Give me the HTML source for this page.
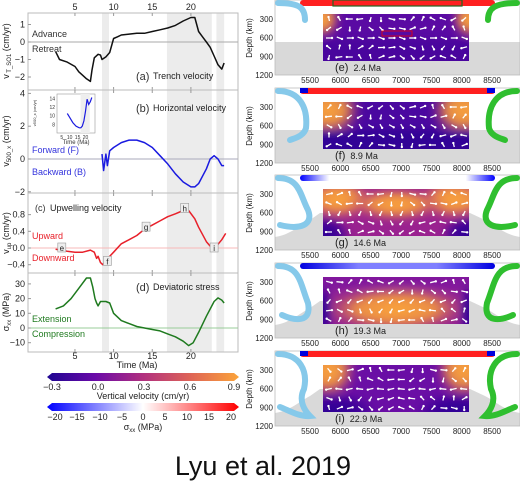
<!DOCTYPE html>
<html><head><meta charset="utf-8">
<style>
html,body{margin:0;padding:0;background:#fff;}
svg{display:block;font-family:"Liberation Sans",sans-serif;}
</style></head>
<body>
<svg id="fig" width="520" height="498" viewBox="0 0 520 498" xmlns="http://www.w3.org/2000/svg">
<defs>
<linearGradient id="plasma" x1="0" x2="1" y1="0" y2="0">
<stop offset="0" stop-color="#1e0691"/><stop offset="0.25" stop-color="#6a0aa8"/><stop offset="0.5" stop-color="#b1307f"/><stop offset="0.75" stop-color="#df6556"/><stop offset="1" stop-color="#fba43a"/>
</linearGradient>
<linearGradient id="bwr" x1="0" x2="1" y1="0" y2="0">
<stop offset="0" stop-color="#0000ff"/><stop offset="0.5" stop-color="#ffffff"/><stop offset="1" stop-color="#ff0000"/>
</linearGradient>
<radialGradient id="orng"><stop offset="0" stop-color="#fba43a"/><stop offset="0.5" stop-color="#f59a3e" stop-opacity="0.9"/><stop offset="1" stop-color="#b1307f" stop-opacity="0"/></radialGradient>
<radialGradient id="dark"><stop offset="0" stop-color="#2a0594"/><stop offset="0.6" stop-color="#3a0698" stop-opacity="0.9"/><stop offset="1" stop-color="#3a0698" stop-opacity="0"/></radialGradient>
<linearGradient id="surfG" x1="0" x2="1"><stop offset="0" stop-color="#0000ff"/><stop offset="0.15" stop-color="#ffffff"/><stop offset="0.85" stop-color="#ffffff"/><stop offset="1" stop-color="#0000ff"/></linearGradient>
<linearGradient id="surfH" x1="0" x2="1"><stop offset="0" stop-color="#0000e0"/><stop offset="0.3" stop-color="#8080ff"/><stop offset="0.7" stop-color="#8080ff"/><stop offset="1" stop-color="#0000e0"/></linearGradient>
<filter id="soft" x="-20%" y="-20%" width="140%" height="140%"><feGaussianBlur stdDeviation="4"/></filter>
</defs>
<g id="left"></g>
<g id="right"></g>
<g id="cbars">
<polygon points="47,377 52,373 234,373 239,377 234,381 52,381" fill="url(#plasma)"/>
<g font-size="9" fill="#222" text-anchor="middle">
<text x="52" y="390">−0.3</text><text x="98" y="390">0.0</text><text x="144" y="390">0.3</text><text x="190" y="390">0.6</text><text x="234" y="390">0.9</text>
<text x="143" y="399">Vertical velocity (cm/yr)</text>
</g>
<polygon points="47,407 52,403 234,403 239,407 234,411 52,411" fill="url(#bwr)"/>
<g font-size="9" fill="#222" text-anchor="middle">
<text x="55" y="420">−20</text><text x="77" y="420">−15</text><text x="100" y="420">−10</text><text x="122" y="420">−5</text><text x="143" y="420">0</text><text x="165" y="420">5</text><text x="187" y="420">10</text><text x="209" y="420">15</text><text x="231" y="420">20</text>
<text x="143" y="430">σ<tspan font-size="6" dy="2">xx</tspan><tspan dy="-2"> (MPa)</tspan></text>
</g>
</g>
<text x="263" y="475" font-size="27" text-anchor="middle" fill="#111">Lyu et al. 2019</text>
</svg>
<script>
// ---- data ----
const trenchT=[2.5,3,4,5,5.5,6,6.5,7,7.2,7.5,8,8.3,8.5,9,9.5,10,10.5,11,12,13,14,15,16,17,18,19,20,20.5,21,21.5,22,22.5,23,23.5,24,24.3];
const trenchV=[-0.55,-1.0,-1.15,-1.4,-1.7,-1.9,-2.1,-2.25,-1.6,-0.9,-0.7,-0.75,-1.0,-0.85,-0.6,0.2,0.3,0.4,0.45,0.5,0.5,0.6,0.7,0.8,0.95,1.2,1.4,1.4,0.6,0.3,0.0,-0.3,-0.8,-1.3,-1.55,-1.2];
const horizT=[8.5,8.7,9,9.2,9.5,10,11,12,13,14,15,16,17,18,19,20,20.5,21,22,22.5,23,23.5,24,24.3];
const horizV=[0.3,-0.7,0.3,-0.4,0.5,0.7,1.0,1.15,1.15,1.0,0.7,0.2,-0.3,-0.9,-1.4,-1.7,-1.7,-1.5,-0.6,0,0.2,0,-0.4,-0.4];
const insetT=[8.5,9,10,12,14,16,17,18,19,20,21,22,23,24];
const insetV=[10.5,10.2,9.6,8.4,7.6,7.2,7.2,7.6,8.8,11,13.8,12.6,13.2,14.2];
const upT=[2.5,4,5,6,7,7.5,7.8,8,8.3,8.6,9,9.5,10,11,12,13,14,15,16,17,18,19,19.7,20.5,21,22,22.7,23.2,24,24.5];
const upV=[-0.03,-0.08,-0.1,-0.1,-0.05,-0.1,-0.25,-0.2,-0.35,-0.4,-0.3,-0.2,-0.1,0.1,0.2,0.3,0.45,0.55,0.65,0.75,0.82,0.9,0.9,0.7,0.5,0.15,0.0,0.02,0.2,0.35];
const markLabels=['e','f','g','h','i'];
const markT=[3.3,9.2,14.2,19.2,23];
const markV=[0.0,-0.32,0.5,0.95,0.0];
const stressT=[2.5,3.5,4.5,5.5,6.5,7,7.3,7.6,7.8,8,8.3,9,9.5,10,11,12,13,14,15,16,17,18,19,19.7,20.3,21,22,23,23.5,24,24.3];
const stressV=[13,15,20,27,34,34,28,20,17,15,18,18,17,10,5,3,1,0,-1,-2,-4,-6,-9,-12,-10,-3,8,18,20.5,19,17];
const timeTicks=[5,10,15,20];
const bands=[[8.5,9.4],[16.9,22.7],[23.3,24.3]];
const panelAges=['2.4 Ma','8.9 Ma','14.6 Ma','19.3 Ma','22.9 Ma'];
const xTicksKm=[5500,6000,6500,7000,7500,8000,8500];
const depthTicks=[300,600,900,1200];

const NS='http://www.w3.org/2000/svg';
function mk(tag,attrs,parent,txt){const e=document.createElementNS(NS,tag);for(const k in attrs)e.setAttribute(k,attrs[k]);if(txt!==undefined)e.textContent=txt;parent.appendChild(e);return e;}
const X0=28,X1=238;
const xs=t=>36.3+7.73*t;
const L=document.getElementById('left');
const panels=[
 {name:'trench',top:13,bot:90,y:v=>42-17.5*v,ticks:[1,0,-1,-2],tl:['1','0','−1','−2'],T:trenchT,V:trenchV,col:'#111',zc:'#aaa'},
 {name:'horizontal',top:90,bot:193,y:v=>159-16.4*v,ticks:[4,2,0,-2],tl:['4','2','0','−2'],T:horizT,V:horizV,col:'#1a1ae0',zc:'#aab'},
 {name:'upwelling',top:193,bot:273,y:v=>248-41.7*v,ticks:[0.8,0.4,0,-0.4],tl:['0.8','0.4','0.0','−0.4'],T:upT,V:upV,col:'#e8202a',zc:'#f7b8b8'},
 {name:'stress',top:273,bot:352,y:v=>328-1.47*v,ticks:[30,20,10,0,-10],tl:['30','20','10','0','−10'],T:stressT,V:stressV,col:'#1f7a1f',zc:'#9c9'}
];
panels.forEach((p,i)=>{
 const g=mk('g',{},L);
 
 
 bands.forEach(b=>{const r=mk('rect',{x:xs(b[0]),y:p.top,width:xs(b[1])-xs(b[0]),height:p.bot-p.top,fill:'#ececec'},g);
  });
 const fr=mk('rect',{x:X0,y:p.top,width:X1-X0,height:p.bot-p.top,fill:'none',stroke:'#bbb','stroke-width':1},g);
 
 mk('line',{x1:X0,x2:X1,y1:p.y(0),y2:p.y(0),stroke:p.zc,'stroke-width':1},g);
 p.ticks.forEach((v,k)=>{const t=mk('text',{x:X0-3,y:p.y(v)+3,'font-size':9,'text-anchor':'end',fill:'#222'},g,p.tl[k]);
  
  mk('line',{x1:X0,x2:X0+3,y1:p.y(v),y2:p.y(v),stroke:'#999'},g);});
 timeTicks.forEach(t=>{mk('line',{x1:xs(t),x2:xs(t),y1:p.bot,y2:p.bot-3,stroke:'#999'},g);mk('line',{x1:xs(t),x2:xs(t),y1:p.top,y2:p.top+3,stroke:'#999'},g);});
 const d=p.T.map((t,k)=>(k?'L':'M')+xs(t).toFixed(1)+','+p.y(p.V[k]).toFixed(1)).join('');
 const pa=mk('path',{d:d,fill:'none',stroke:p.col,'stroke-width':1.5,'stroke-linejoin':'round'},g);
 
});
timeTicks.forEach(t=>{
 const a=mk('text',{x:xs(t),y:10,'font-size':9,'text-anchor':'middle',fill:'#222'},L,String(t));
 
 const b=mk('text',{x:xs(t),y:359,'font-size':9,'text-anchor':'middle',fill:'#222'},L,String(t));
 
});
const tt=mk('text',{x:137,y:368,'font-size':9,'text-anchor':'middle',fill:'#222'},L,'Time (Ma)');

[['v',' T_SO1 (cm/yr)',51],['v','500_x (cm/yr)',141],['v','up (cm/yr)',233],['σ','xx (MPa)',312]].forEach((a,k)=>{
 const t=mk('text',{transform:`translate(9,${a[2]}) rotate(-90)`,'font-size':9,'text-anchor':'middle',fill:'#222'},L);
 mk('tspan',{},t,a[0]);mk('tspan',{'font-size':6,dy:2},t,a[1].split(' (')[0]);mk('tspan',{dy:-2},t,' ('+a[1].split(' (')[1]);
 
});
function lab(x,y,s,c,fs,nm){const t=mk('text',{x:x,y:y,'font-size':fs||9,fill:c||'#222'},L,s);return t;}
lab(32,37,'Advance','#333',9,'advance-label');lab(32,52,'Retreat','#333',9,'retreat-label');
lab(136,80,'(a)','#333',11,'panel-a-letter');lab(153,79,'Trench velocity','#222',9,'panel-a-title');
lab(136,112,'(b)','#333',11,'panel-b-letter');lab(153,111,'Horizontal velocity','#222',9,'panel-b-title');
lab(32,153,'Forward (F)','#3333dd',9,'forward-label');lab(32,175,'Backward (B)','#3333dd',9,'backward-label');
lab(35,211,'(c)','#333',9,'panel-c-letter');lab(50,211,'Upwelling velocity','#222',9,'panel-c-title');
lab(32,239,'Upward','#e8202a',9,'upward-label');lab(32,261,'Downward','#e8202a',9,'downward-label');
lab(136,291,'(d)','#333',11,'panel-d-letter');lab(153,290,'Deviatoric stress','#222',9,'panel-d-title');
lab(32,322,'Extension','#1f7a1f',9,'extension-label');lab(32,337,'Compression','#1f7a1f',9,'compression-label');
markLabels.forEach((m,k)=>{const x=xs(markT[k]),y=panels[2].y(markV[k]);
 const r=mk('rect',{x:x-4,y:y-5,width:8,height:9,fill:'#eee',stroke:'#999','stroke-width':0.6},L);
 
 mk('text',{x:x,y:y+3,'font-size':8,'text-anchor':'middle',fill:'#222'},L,m);});
(function(){const g=mk('g',{},L);
 const ix0=57,ix1=95,iy0=94,iy1=133;
 const ixs=t=>ix0+(t-2)*(ix1-ix0)/24, iys=v=>iy1-(v-6)*(iy1-iy0)/9;
 mk('rect',{x:ix0,y:iy0,width:ix1-ix0,height:iy1-iy0,fill:'#fff',stroke:'#999','stroke-width':0.6},g);
 mk('rect',{x:ixs(16.9),y:iy0,width:ixs(22.7)-ixs(16.9),height:iy1-iy0,fill:'#eee'},g);
 const d=insetT.map((t,k)=>(k?'L':'M')+ixs(t).toFixed(1)+','+iys(insetV[k]).toFixed(1)).join('');
 const p=mk('path',{d:d,fill:'none',stroke:'#1a1ae0','stroke-width':1.2},g);
 
 [8,10,12,14].forEach(v=>mk('text',{x:ix0-2,y:iys(v)+2,'font-size':5,'text-anchor':'end',fill:'#333'},g,v));
 [5,10,15,20].forEach(t=>mk('text',{x:ixs(t),y:iy1+6,'font-size':5,'text-anchor':'middle',fill:'#333'},g,t));
 mk('text',{x:76,y:144,'font-size':6,'text-anchor':'middle',fill:'#333'},g,'Time (Ma)');
 mk('text',{transform:'translate(36,113) rotate(-90)','font-size':4,'text-anchor':'middle',fill:'#333'},g,'v500_x (cm/yr)');
})();

const R=document.getElementById('right');
const tops=[0,88,175,263,351];
const kmx=km=>310+(km-5500)*0.0607;
tops.forEach((T,i)=>{
 const g=mk('g',{},R);
 
 
 mk('rect',{x:275,y:T,width:245,height:75,fill:'#fff'},g);
 if(i<2) mk('rect',{x:275,y:T+42,width:245,height:33,fill:'#d9d9d9'},g);
 else mk('path',{d:`M275,${T+62} C290,${T+60} 300,${T+50} 310,${T+45} L320,${T+38} L470,${T+38} L485,${T+45} C495,${T+50} 505,${T+60} 520,${T+62} L520,${T+75} L275,${T+75}Z`,fill:'#d9d9d9'},g);
 mk('rect',{x:275,y:T,width:245,height:75,fill:'none',stroke:'#bbb','stroke-width':0.8},g);
 const sf=[ '#ff2020','#ff2020','url(#surfG)','url(#surfH)','#ff2020'][i];
 const sb=mk('rect',{x:300,y:T,width:195,height:6,rx:3,fill:sf},g);
 
 if(i==1||i==4){mk('rect',{x:300,y:T,width:8,height:5,fill:'#0000dd'},g);mk('rect',{x:487,y:T,width:8,height:5,fill:'#0000dd'},g);}
 if(i==0) mk('rect',{x:333,y:T,width:129,height:6,fill:'none',stroke:'#226622','stroke-width':1.2},g);
 const sl=[
  [`M278,${T+3} C300,${T+3} 305,${T+8} 305,${T+20}`,`M517,${T+3} C495,${T+3} 488,${T+8} 488,${T+20}`],
  [`M278,${T+3} C300,${T+3} 308,${T+20} 306,${T+40} C304,${T+48} 295,${T+50} 290,${T+52}`,`M517,${T+3} C495,${T+3} 487,${T+20} 489,${T+40} C491,${T+48} 500,${T+50} 505,${T+52}`],
  [`M278,${T+3} C300,${T+3} 300,${T+20} 308,${T+35} C314,${T+50} 300,${T+55} 280,${T+50}`,`M517,${T+3} C495,${T+3} 495,${T+20} 487,${T+35} C481,${T+50} 495,${T+55} 515,${T+50}`],
  [`M278,${T+3} C300,${T+3} 300,${T+20} 308,${T+40} C312,${T+60} 295,${T+58} 282,${T+52}`,`M517,${T+3} C495,${T+3} 495,${T+20} 487,${T+40} C483,${T+60} 500,${T+58} 513,${T+52}`],
  [`M278,${T+3} C300,${T+3} 308,${T+20} 304,${T+38} C298,${T+50} 305,${T+60} 310,${T+65} C300,${T+66} 290,${T+60} 280,${T+56}`,`M517,${T+3} C495,${T+3} 487,${T+20} 491,${T+38} C497,${T+50} 490,${T+60} 485,${T+65} C495,${T+66} 505,${T+60} 515,${T+56}`]
 ][i];
 const s1=mk('path',{d:sl[0],fill:'none',stroke:'#86c9ea','stroke-width':6,'stroke-linecap':'round'},g);
 
 const s2=mk('path',{d:sl[1],fill:'none',stroke:'#2fbf2f','stroke-width':6,'stroke-linecap':'round'},g);
 
 const bx=323,by=T+14,bw=146,bh=47;
 const cid='clip'+i;const cp=mk('clipPath',{id:cid},g);mk('rect',{x:bx,y:by,width:bw,height:bh},cp);
 const bg=mk('g',{'clip-path':`url(#${cid})`},g);
 
 const base=['#5a0aa3','#4a08a0','#9a2290','#8a1c98','#6a0ea5'][i];
 mk('rect',{x:bx,y:by,width:bw,height:bh,fill:base},bg);
 const ov=mk('g',{filter:'url(#soft)'},bg);
 const E=(cx,cy,rx,ry,f)=>mk('ellipse',{cx:cx,cy:cy,rx:rx,ry:ry,fill:`url(#${f})`},ov);
 if(i==0){E(bx,by+5,18,20,'orng');E(bx+bw,by+5,18,20,'orng');mk('rect',{x:bx-10,y:by+25,width:bw+20,height:30,fill:'#3a0698',opacity:0.5},ov);}
 if(i==1){E(bx+5,by+8,35,28,'orng');E(bx+bw-5,by+8,35,28,'orng');mk('rect',{x:bx-10,y:by+28,width:bw+20,height:30,fill:'#2a0594',opacity:0.8},ov);}
 if(i==2){E(bx+15,by+10,40,22,'orng');E(bx+bw-15,by+10,40,22,'orng');E(bx+73,by+15,50,18,'orng');E(bx,by+bh,28,22,'dark');E(bx+bw,by+bh,28,22,'dark');}
 if(i==3){mk('rect',{x:bx-10,y:by-10,width:bw+20,height:22,fill:'#7a10a0',opacity:0.6},ov);E(bx+73,by+32,80,26,'orng');E(bx,by+35,10,30,'dark');E(bx+bw,by+35,10,30,'dark');}
 if(i==4){E(bx+5,by+5,30,30,'orng');E(bx+bw-5,by+5,30,30,'orng');E(bx+10,by+bh,45,20,'dark');E(bx+bw-10,by+bh,45,20,'dark');}
 for(let r=0;r<5;r++)for(let c=0;c<14;c++){
  const x=bx+6+c*10.4,y=by+5+r*9.5;
  const ang=((c-6.5)*(r-2)*0.35+(i*0.7)+(c%2)*0.5);
  const dx=Math.cos(ang)*3,dy=Math.sin(ang)*2;
  mk('line',{x1:x-dx,y1:y-dy,x2:x+dx,y2:y+dy,stroke:'#fff','stroke-width':1.3},bg);
  mk('circle',{cx:x+dx,cy:y+dy,r:1.2,fill:'#fff'},bg);
 }
 if(i==0) mk('rect',{x:382,y:T+31,width:30,height:5,fill:'none',stroke:'#e00','stroke-width':0.8},g);
 depthTicks.forEach(d=>{const t=mk('text',{x:273,y:T+d/16+3,'font-size':8,'text-anchor':'end',fill:'#222'},g,d);
  });
 xTicksKm.forEach(k=>{const t=mk('text',{x:kmx(k),y:T+83,'font-size':8,'text-anchor':'middle',fill:'#222'},g,k);
  });
 const dl=mk('text',{transform:`translate(252,${T+38}) rotate(-90)`,'font-size':8,'text-anchor':'middle',fill:'#222'},g,'Depth (km)');
 
 const al=mk('text',{x:335,y:T+71,'font-size':10,fill:'#222'},g);
 mk('tspan',{'font-size':11},al,'('+markLabels[i]+')');mk('tspan',{dx:5,'font-size':9},al,panelAges[i]);
 
});
</script>
</body></html>
